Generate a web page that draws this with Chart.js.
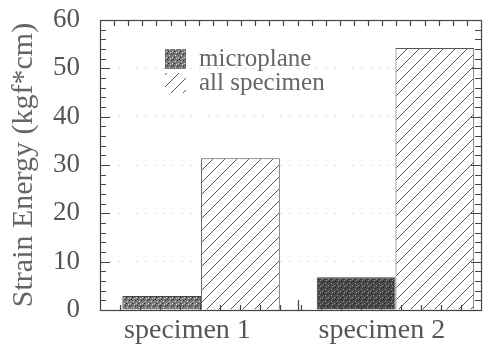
<!DOCTYPE html>
<html>
<head>
<meta charset="utf-8">
<script src="https://cdn.jsdelivr.net/npm/chart.js@4/dist/chart.umd.min.js"></script>
<style>
  html, body { margin: 0; padding: 0; background: #fff; }
  #wrap { width: 491px; height: 351px; }
</style>
</head>
<body>
<div id="wrap"><canvas id="chart"></canvas></div>
<script>
const categories = ["specimen 1", "specimen 2"];
const seriesNames = ["microplane", "all specimen"];
const microplane = [2.9, 6.8];
const allSpecimen = [31.4, 54.2];
const yTicks = [0, 10, 20, 30, 40, 50, 60];

const ink = "#444";
const serif = "'Liberation Serif', 'DejaVu Serif', serif";

// hatch "/" for all specimen
function hatchPattern() {
	const c = document.createElement("canvas");
	c.width = 12; c.height = 12;
	const g = c.getContext("2d");
	g.fillStyle = "#fff";
	g.fillRect(0, 0, 12, 12);
	g.strokeStyle = "#555";
	g.lineWidth = 1;
	g.beginPath();
	g.moveTo(-1, 13); g.lineTo(13, -1);
	g.moveTo(-7, 7); g.lineTo(7, -7);
	g.moveTo(5, 19); g.lineTo(19, 5);
	g.stroke();
	return g.createPattern(c, "repeat");
}

// dark stipple for microplane
function stipplePattern(base, dot) {
	const c = document.createElement("canvas");
	c.width = 6; c.height = 6;
	const g = c.getContext("2d");
	g.fillStyle = base;
	g.fillRect(0, 0, 6, 6);
	g.fillStyle = dot;
	g.fillRect(1, 1, 1, 1);
	g.fillRect(4, 3, 1, 1);
	g.fillRect(2, 4, 1, 1);
	g.fillStyle = "#222";
	g.fillRect(3, 0, 1, 1);
	g.fillRect(0, 3, 1, 1);
	g.fillRect(5, 5, 1, 1);
	return g.createPattern(c, "repeat");
}

const hatch = hatchPattern();
const stipple1 = stipplePattern("#7a7a7a", "#ddd");
const stipple2 = stipplePattern("#4a4a4a", "#999");

// inward ticks, frame and legend
const decor = {
	id: "decor",
	afterDraw(chart) {
		const ctx = chart.ctx;
		const a = chart.chartArea;
		const y = chart.scales.y;
		const x = chart.scales.x;
		ctx.save();
		ctx.strokeStyle = ink;
		ctx.lineWidth = 1.2;
		ctx.strokeRect(a.left + 0.5, a.top + 0.5, a.right - a.left, a.bottom - a.top);
		ctx.beginPath();
		for (let v = 0; v <= 60; v += 2) {
			const py = Math.round(y.getPixelForValue(v)) + 0.5;
			const len = v % 10 === 0 ? 10 : 6;
			ctx.moveTo(a.left, py); ctx.lineTo(a.left + len, py);
			ctx.moveTo(a.right, py); ctx.lineTo(a.right - len, py);
		}
		const n = 27;
		for (let i = 1; i < n; i++) {
			const px = Math.round(a.left + (a.right - a.left) * i / n) + 0.5;
			ctx.moveTo(px, a.top); ctx.lineTo(px, a.top + 6);
		}
		const m = 19;
		for (let i = 1; i < m; i++) {
			const px = Math.round(a.left + (a.right - a.left) * i / m) + 0.5;
			ctx.moveTo(px, a.bottom); ctx.lineTo(px, a.bottom - 5);
		}
		const mid = Math.round(x.getPixelForValue(0.5)) + 0.5;
		ctx.moveTo(mid, a.bottom); ctx.lineTo(mid, a.bottom - 10);
		ctx.stroke();

		// legend
		const items = [
			{ text: seriesNames[0], fill: stipple1 },
			{ text: seriesNames[1], fill: hatch }
		];
		ctx.font = "25px " + serif;
		ctx.textBaseline = "middle";
		items.forEach((it, i) => {
			const ly = 59 + i * 24;
			ctx.fillStyle = it.fill;
			ctx.fillRect(165, ly - 10, 21, 20);
			ctx.fillStyle = "#666";
			ctx.fillText(it.text, 199, ly);
		});
		ctx.restore();
	}
};

const toPoints = arr => arr.map((v, i) => ({ x: i, y: v }));

new Chart(document.getElementById("chart"), {
	type: "bar",
	data: {
		datasets: [
			{
				label: seriesNames[0],
				data: toPoints(microplane),
				backgroundColor: [stipple1, stipple2],
				borderColor: ink,
				borderWidth: 1,
				categoryPercentage: 0.81,
				barPercentage: 1
			},
			{
				label: seriesNames[1],
				data: toPoints(allSpecimen),
				backgroundColor: hatch,
				borderColor: "#555",
				borderWidth: 1,
				categoryPercentage: 0.81,
				barPercentage: 1
			}
		]
	},
	options: {
		responsive: true,
		maintainAspectRatio: false,
		animation: false,
		layout: { padding: { top: 20, right: 10, left: 0, bottom: 0 } },
		plugins: {
			legend: { display: false },
			tooltip: { enabled: false }
		},
		scales: {
			x: {
				type: "linear",
				min: -0.52,
				max: 1.44,
				offset: false,
				// labels sit a little left of the bar groups, as in the original
				afterBuildTicks(scale) { scale.ticks = categories.map((c, i) => ({ value: i - 0.07 })); },
				grid: { display: false, drawTicks: false, offset: false },
				border: { display: false },
				ticks: {
					color: "#555",
					font: { family: serif, size: 28 },
					padding: 4,
					maxRotation: 0,
					autoSkip: false,
					callback: v => categories[Math.round(v)]
				},
				afterFit(scale) { scale.height = 41; scale.paddingLeft = 0; scale.paddingRight = 0; }
			},
			y: {
				min: 0,
				max: 60,
				afterBuildTicks(scale) { scale.ticks = yTicks.map(v => ({ value: v })); },
				grid: {
					color: "rgba(0,0,0,0.13)",
					drawTicks: false
				},
				border: { display: false, dash: [2, 7] },
				ticks: {
					color: "#555",
					font: { family: serif, size: 27 },
					padding: 20
				},
				title: {
					display: true,
					text: "Strain Energy (kgf*cm)",
					color: "#666",
					font: { family: serif, size: 30 },
					padding: { top: 6, bottom: 0 }
				},
				afterFit(scale) { scale.width = 100; scale.paddingTop = 0; scale.paddingBottom = 0; }
			}
		}
	},
	plugins: [decor]
});
</script>
</body>
</html>
